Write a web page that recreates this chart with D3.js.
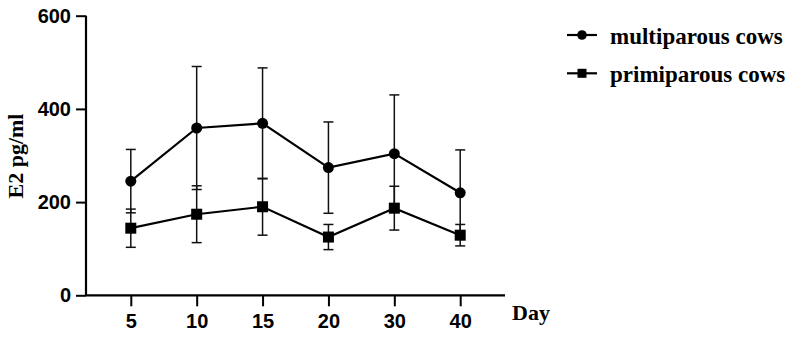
<!DOCTYPE html>
<html>
<head>
<meta charset="utf-8">
<script src="https://cdn.jsdelivr.net/npm/d3@7"></script>
<style>
  body { margin: 0; background: #fff; }
</style>
</head>
<body>
<div id="chart"></div>
<script>
// data
const days = ["5", "10", "15", "20", "30", "40"];
const multiMean = [245, 359, 369, 274, 304, 220];
const multiSd = [68, 132, 119, 98, 126, 92];
const primiMean = [144, 174, 190, 125, 187, 129];
const primiSd = [41, 61, 61, 27, 47, 23];
const yTicks = [0, 200, 400, 600];
const seriesNames = ["multiparous cows", "primiparous cows"];

const width = 797, height = 342;

const svg = d3.select("#chart")
  .append("svg")
  .attr("width", width)
  .attr("height", height);

// plot area
const plotLeft = 86, plotRight = 505, plotTop = 15.7, plotBottom = 295.3;

const x = d3.scalePoint()
  .domain(days)
  .range([plotLeft, plotRight])
  .padding(0.68);

const y = d3.scaleLinear()
  .domain([0, 600])
  .range([plotBottom, plotTop]);

// y axis
const yAxis = svg.append("g")
  .attr("transform", `translate(${plotLeft},0)`)
  .call(d3.axisLeft(y).tickValues(yTicks).tickSize(10).tickPadding(5));
yAxis.select(".domain").attr("stroke-width", 2.2).attr("d", `M0,${plotTop}V${plotBottom}`);
yAxis.selectAll(".tick line").attr("stroke-width", 2);
yAxis.selectAll(".tick text")
  .attr("font-family", "Liberation Sans, Arial, sans-serif")
  .attr("font-weight", "bold")
  .attr("font-size", "20px")
  .attr("fill", "#000");

// x axis
const xAxis = svg.append("g")
  .attr("transform", `translate(0,${plotBottom})`)
  .call(d3.axisBottom(x).tickSize(11).tickPadding(8));
xAxis.select(".domain").attr("stroke-width", 2.2).attr("d", `M${plotLeft},0H${plotRight}`);
xAxis.selectAll(".tick line").attr("stroke-width", 2);
xAxis.selectAll(".tick text")
  .attr("font-family", "Liberation Sans, Arial, sans-serif")
  .attr("font-weight", "bold")
  .attr("font-size", "20px")
  .attr("fill", "#000");

// axis titles
svg.append("text")
  .attr("x", 512)
  .attr("y", 320)
  .attr("font-family", "Liberation Serif, Times New Roman, serif")
  .attr("font-weight", "bold")
  .attr("font-size", "22px")
  .attr("fill", "#000")
  .text("Day");

svg.append("text")
  .attr("transform", `translate(23,${156}) rotate(-90)`)
  .attr("text-anchor", "middle")
  .attr("font-family", "Liberation Serif, Times New Roman, serif")
  .attr("font-weight", "bold")
  .attr("font-size", "22px")
  .attr("fill", "#000")
  .text("E2 pg/ml");

const series = [
  { name: seriesNames[0], mean: multiMean, sd: multiSd, shape: "circle" },
  { name: seriesNames[1], mean: primiMean, sd: primiSd, shape: "square" }
];

const line = d3.line()
  .x(d => x(d.day))
  .y(d => y(d.v));

const capW = 5;

series.forEach(s => {
  const pts = days.map((d, i) => ({ day: d, v: s.mean[i], sd: s.sd[i] }));
  const g = svg.append("g");

  // error bars
  pts.forEach(p => {
    const cx = x(p.day);
    const y1 = y(p.v + p.sd), y2 = y(p.v - p.sd);
    g.append("line")
      .attr("x1", cx).attr("x2", cx).attr("y1", y1).attr("y2", y2)
      .attr("stroke", "#111").attr("stroke-width", 1.5);
    [y1, y2].forEach(yy => {
      g.append("line")
        .attr("x1", cx - capW).attr("x2", cx + capW).attr("y1", yy).attr("y2", yy)
        .attr("stroke", "#111").attr("stroke-width", 1.5);
    });
  });

  g.append("path")
    .datum(pts)
    .attr("d", line)
    .attr("fill", "none")
    .attr("stroke", "#000")
    .attr("stroke-width", 2.2);

  if (s.shape === "circle") {
    g.selectAll("circle")
      .data(pts)
      .enter()
      .append("circle")
      .attr("cx", d => x(d.day))
      .attr("cy", d => y(d.v))
      .attr("r", 5.5)
      .attr("fill", "#000");
  } else {
    g.selectAll("rect")
      .data(pts)
      .enter()
      .append("rect")
      .attr("x", d => x(d.day) - 5.5)
      .attr("y", d => y(d.v) - 5.5)
      .attr("width", 11)
      .attr("height", 11)
      .attr("fill", "#000");
  }
});

// legend
const legend = svg.append("g");
series.forEach((s, i) => {
  const ly = 35 + i * 38.3;
  legend.append("line")
    .attr("x1", 567).attr("x2", 597).attr("y1", ly).attr("y2", ly)
    .attr("stroke", "#000").attr("stroke-width", 2.2);
  if (s.shape === "circle") {
    legend.append("circle").attr("cx", 582).attr("cy", ly).attr("r", 4.8).attr("fill", "#000");
  } else {
    legend.append("rect").attr("x", 577.5).attr("y", ly - 4.5).attr("width", 9).attr("height", 9).attr("fill", "#000");
  }
  legend.append("text")
    .attr("x", 610)
    .attr("y", ly + 9)
    .attr("font-family", "Liberation Serif, Times New Roman, serif")
    .attr("font-weight", "bold")
    .attr("font-size", "23px")
    .attr("fill", "#000")
    .text(s.name);
});
</script>
</body>
</html>
